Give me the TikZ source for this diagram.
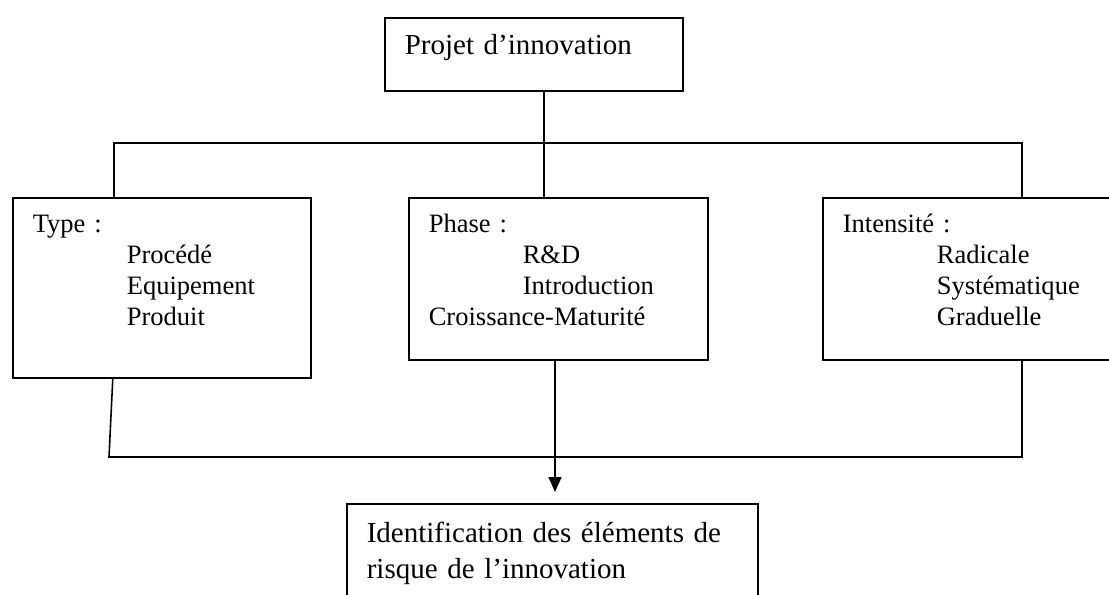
\documentclass[tikz,border=0pt]{standalone}
\usepackage{fontspec}
\setmainfont{Liberation Serif}
\usetikzlibrary{arrows.meta}
\begin{document}
\begin{tikzpicture}[
	line width=0.9pt,
	box/.style={rectangle, draw, anchor=north west, inner xsep=0.4cm, inner ysep=0pt, align=left},
	grand/.style={font=\fontsize{16.5pt}{20.8pt}\selectfont},
	liste/.style={text width=5.18cm, text height=0.7cm, text depth=2.54cm, font=\fontsize{15.1pt}{17.5pt}\selectfont},
	fleche/.style={-{Triangle[width=0.26cm, length=0.3cm]}, shorten >=0.22cm}
]
\useasboundingbox (0,0) rectangle (22.18,-11.9);
\clip (0,0) rectangle (22.18,-11.9);
\node[box, grand, text width=5.16cm, text height=0.74cm, text depth=0.73cm] (projet) at (7.68,-0.34) {Projet d’innovation};
\node[box, liste, text width=5.16cm, text depth=2.9cm] (type) at (0.24,-3.94) {Type :\\\hspace*{1.88cm}Procédé\\\hspace*{1.88cm}Equipement\\\hspace*{1.88cm}Produit};
\node[box, liste] (phase) at (8.16,-3.94) {Phase :\\\hspace*{1.88cm}R\&D\\\hspace*{1.88cm}Introduction\\Croissance-Maturité};
\node[box, liste] (intensite) at (16.44,-3.94) {Intensité :\\\hspace*{1.88cm}Radicale\\\hspace*{1.88cm}Systématique\\\hspace*{1.88cm}Graduelle};
\node[box, grand, text width=7.42cm, text height=0.77cm, text depth=1.6cm] (identif) at (6.92,-10.06) {Identification des éléments de\\risque de l’innovation};
\coordinate (hautg) at (2.28,-2.86);
\coordinate (hautm) at (10.88,-2.86);
\coordinate (hautd) at (20.44,-2.86);
\coordinate (basg) at (2.18,-9.14);
\coordinate (basm) at (11.1,-9.14);
\coordinate (basd) at (20.44,-9.14);
\draw (projet.south -| hautm) -- (phase.north -| hautm);
\draw (type.north -| hautg) -- (hautg) -- (hautd) -- (intensite.north -| hautd);
\draw ([xshift=-0.98cm]type.south) -- (basg) -- (basd) -- (intensite.south -| basd);
\draw[fleche] (phase.south -| basm) -- (identif.north -| basm);
\end{tikzpicture}
\end{document}
